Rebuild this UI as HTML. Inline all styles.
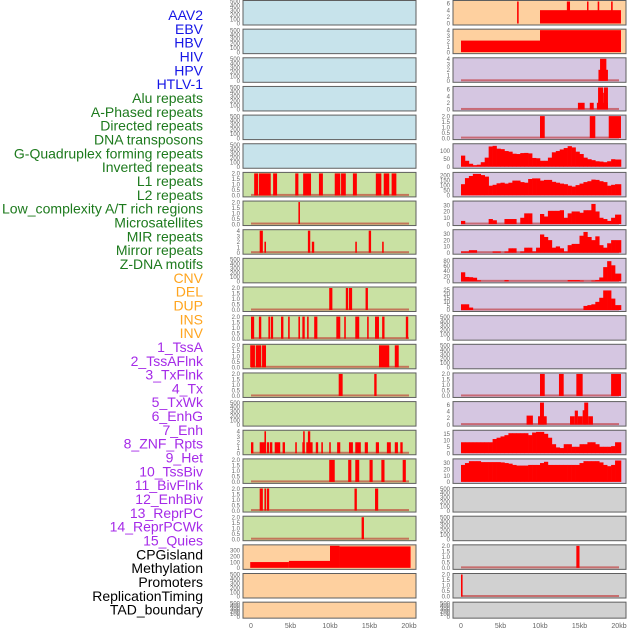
<!DOCTYPE html>
<html><head><meta charset="utf-8"><style>
html,body{margin:0;padding:0;background:#fff;}
svg{display:block;font-family:"Liberation Sans",sans-serif;}
</style></head><body>
<svg id="chart" width="630" height="630" viewBox="0 0 630 630" xmlns="http://www.w3.org/2000/svg"></svg>
<script>
// ---------- data ----------
const trackLabels = ["AAV2","EBV","HBV","HIV","HPV","HTLV-1","Alu repeats","A-Phased repeats","Directed repeats","DNA transposons","G-Quadruplex forming repeats","Inverted repeats","L1 repeats","L2 repeats","Low_complexity A/T rich regions","Microsatellites","MIR repeats","Mirror repeats","Z-DNA motifs","CNV","DEL","DUP","INS","INV","1_TssA","2_TssAFlnk","3_TxFlnk","4_Tx","5_TxWk","6_EnhG","7_Enh","8_ZNF_Rpts","9_Het","10_TssBiv","11_BivFlnk","12_EnhBiv","13_ReprPC","14_ReprPCWk","15_Quies","CPGisland","Methylation","Promoters","ReplicationTiming","TAD_boundary"];
const labelGroups = ["v","v","v","v","v","v","r","r","r","r","r","r","r","r","r","r","r","r","r","s","s","s","s","s","c","c","c","c","c","c","c","c","c","c","c","c","c","c","c","k","k","k","k","k"];
const xTicks = [0,5,10,15,20];
const xTickLabels = ["0","5kb","10kb","15kb","20kb"];
// left column: background kind and y-max per row
const leftBg = ["b","b","b","b","b","b","g","g","g","g","g","g","g","g","g","g","g","g","g","o","o","o"];
const leftMax = [500,500,500,500,500,500,2,2,4,500,2,2,2,2,500,4,2,2,2,380,500,500];
// segments: [startKb, endKb, value]
const leftSegs = [
 [],[],[],[],[],[],
 [[0.4,0.9,2],[1.0,2.5,2],[2.8,3.3,2],[5.6,6.0,2],[6.6,7.6,2],[8.6,9.1,2],[10.6,11.3,2],[11.4,12.0,2],[12.9,13.4,2],[15.8,16.5,2],[16.8,17.5,2],[17.8,18.4,2]],
 [[6.0,6.2,2]],
 [[1.1,1.5,4],[1.7,1.9,2],[7.2,7.5,4],[7.7,8.0,2],[13.2,13.4,2],[14.9,15.2,4],[16.6,16.8,2]],
 [],
 [[9.9,10.3,2],[12.0,12.3,2],[12.4,12.8,2],[14.5,14.8,2]],
 [[0,0.4,2],[1.0,1.3,2],[2.2,2.4,2],[2.5,2.8,2],[3.8,4.1,2],[4.7,4.9,2],[6.0,6.2,2],[6.5,6.8,2],[7.1,7.3,2],[8.0,8.4,2],[10.8,11.3,2],[11.8,12.0,2],[13.2,13.7,2],[14.7,14.9,2],[15.7,16.2,2],[16.6,16.9,2],[19.6,19.9,2]],
 [[-0.1,0.5,2],[0.6,1.3,2],[1.4,1.9,2],[16.2,17.5,2],[18.2,18.7,2]],
 [[11.1,11.6,2],[15.6,15.9,2]],
 [],
 [[0,0.3,2],[1.1,1.8,2],[1.7,1.9,4],[2.0,2.3,2],[2.4,2.7,2],[3.0,3.7,2],[4.0,4.3,2],[5.6,5.8,2],[6.5,6.8,2],[6.6,6.8,4],[7.0,7.8,2],[7.2,7.5,4],[8.2,8.5,2],[8.9,9.1,2],[9.9,10.1,2],[10.9,11.3,2],[12.4,12.9,2],[13.2,13.9,2],[14.4,14.8,2],[15.8,16.2,2],[17.2,17.7,2],[18.2,18.6,2],[18.9,19.2,2]],
 [[9.9,10.6,2],[12.3,12.7,2],[13.2,13.7,2],[15.0,15.4,2],[16.5,16.9,2],[19.2,19.6,2]],
 [[1.1,1.5,2],[1.7,1.9,2],[2.0,2.3,2],[13.1,13.4,2],[15.7,16.1,2]],
 [[14.0,14.3,2]],
 [[-0.1,4.8,100],[4.8,10,120],[10,11.2,395],[11.2,20.2,370]],
 [],[]
];
const leftBase = [0,0,0,0,0,0,1,1,1,0,1,1,1,1,0,1,1,1,1,0,0,0];
// right column
const rightBg = ["o","o","p","p","p","p","p","p","p","p","p","p","p","p","p","p","p","k","k","k","k","k"];
const rightMax = [6.6,4,4,6.6,2,140,220,35,35,85,27,500,500,2,6.6,17,35,500,500,2,2,500];
const rightSegs = [
 [[7.1,7.3,6.6],[10,20.25,4],[13.4,13.8,6.6],[15.95,16.1,6.6],[17.3,17.5,6.6],[19.0,19.2,6.6]],
 [[0,10,2.1],[10,20.25,4]],
 [[17.4,18.6,2],[17.6,18.4,4]],
 [[14.8,15.65,2],[16.3,16.8,2],[17.2,18.6,2],[17.35,18.0,6.6],[18.1,18.6,6.6],[18.0,18.1,5]],
 [[10.0,10.6,2],[16.3,17.0,2],[18.7,20.25,2]],
 [],[],[],[],[],[],[],[],
 [[10.0,10.6,2],[12.4,13.0,2],[14.6,15.4,2],[19.0,20.25,2]],
 [[8.3,9.1,2.7],[9.75,10.85,2.5],[10.0,10.5,6.6],[13.8,14.4,2.5],[14.4,14.8,4.2],[14.8,15.4,2.5],[15.4,15.8,4.3],[15.6,16.1,6.6],[16.1,16.7,2.5]],
 [],[],[],[],
 [[14.6,15.0,2]],
 [[0,0.2,2]],
 []
];
// binned profiles (40 bins of 0.5kb over 0-20kb); keyed by right row index
const aluProfile = [71,38,19,10,13,29,58,129,133,115,112,100,96,83,81,87,88,85,56,54,38,38,58,92,100,110,119,131,123,96,81,58,48,42,35,33,29,35,48,46];
const l1Profile = [112,173,194,215,215,203,188,97,106,121,127,118,127,148,148,133,127,164,170,170,148,155,155,136,127,118,112,97,88,103,118,133,142,158,155,142,133,97,106,112];
const row7Profile = [5,0,0,0,0,0,0,8,6,0,0,8,8,8,0,10,17,17,0,0,16,12,21,21,21,22,10,17,20,20,18,22,22,32,20,10,8,5,10,15];
const row8Profile = [2,2,4,4,0,0,0,0,2,2,0,2,7,7,0,2,8,8,2,8,29,25,20,8,10,7,2,12,14,14,27,33,25,20,26,12,8,15,20,20];
const row9Profile = [35,17,16,14,4,0,0,0,0,0,0,5,0,0,0,0,0,0,0,0,0,0,0,0,0,0,0,5,5,5,3,0,0,3,5,15,55,78,62,30];
const row10Profile = [7,7,3,0,0,0,0,0,0,0,0,0,0,0,0,0,0,0,0,0,0,0,0,0,0,0,0,0,0,0,0,5,6,7,10,15,24,24,14,6];
const row15Profile = [8.5,8.5,8.5,8.5,8.5,8.5,8.5,8.5,11,12,13,14,15.5,15.5,15.5,15.5,15.5,14,16,16.5,16.5,15,12,7,4.5,4,7,7,5,5,7,7,8.5,8.5,7,5,5,5,5.5,8.5];
const row16Profile = [27,30,33,33,33,31.5,31.5,31.5,31.5,31.5,31,30,29,27,26,26,26,27,27,27,30,32,27,27,27,27,27,27,27,27,30,33,33,33,33,31,27,25,27,34];
const rightProfiles = {5:aluProfile,6:l1Profile,7:row7Profile,8:row8Profile,9:row9Profile,10:row10Profile,15:row15Profile,16:row16Profile};
const rightBase = [0,0,1,1,1,0,0,1,1,1,1,0,0,1,1,0,0,0,0,1,1,0];
const tickSets = {
 2:[0,0.5,1,1.5,2], 4:[0,1,2,3,4], 500:[0,100,200,300,400,500], 6.6:[0,2,4,6], 140:[0,50,100],
 220:[0,50,100,150,200], 35:[0,10,20,30], 85:[0,20,40,60,80], 27:[0,5,10,15,20,25], 17:[0,5,10,15], 380:[0,100,200,300]
};

// ---------- drawing ----------
const svg = document.getElementById('chart');
const NS = 'http://www.w3.org/2000/svg';
const bgColors = {b:'#c7e3eb', g:'#c9e1a3', o:'#fed09f', p:'#d5c6e1', k:'#d1d1d1'};
const groupColors = {v:'#1515e6', r:'#1d7a1d', s:'#ffa51f', c:'#a52ae8', k:'#000000'};
const colX = [243, 453];
const panelW = 173;
const kb0 = [251, 461];
const pxPerKb = 7.9;
function xScale(col, kb){ return kb0[col] + kb * pxPerKb; }
function rowTop(i){ return i * 28.65 + 0.5; }
function rowH(i){ return i === 21 ? 16 : 24.5; }
function yScale(i, v, max){ const top = rowTop(i) + 1, bot = rowTop(i) + rowH(i) - 1.5; return bot - (v / max) * (bot - top); }
function mk(tag, attrs){ const e = document.createElementNS(NS, tag); for (const k in attrs) e.setAttribute(k, attrs[k]); return e; }
function fmt(t, max){ return max === 2 ? t.toFixed(1) : String(t); }

// labels
trackLabels.forEach((lab, i) => {
  const t = mk('text', {x:203, y:15 + i * 13.83 + 5, 'text-anchor':'end', 'font-size':14, fill:groupColors[labelGroups[i]]});
  if (lab.length > 28) { t.setAttribute('textLength', 201); t.setAttribute('lengthAdjust', 'spacingAndGlyphs'); }
  t.textContent = lab;
  
  
  svg.appendChild(t);
});

function drawPanel(col, i, bg, max, segs, profile, base){
  const g = mk('g', {});
  
  
  const top = rowTop(i), h = rowH(i);
  g.appendChild(mk('rect', {x:colX[col], y:top, width:panelW, height:h, fill:bgColors[bg]}));
  if (base) {
    const bl = mk('rect', {x:xScale(col, 0), y:yScale(i, 0, max) - 1.5, width:20 * pxPerKb, height:2, fill:'rgba(190,30,30,0.55)'});
    
    
    g.appendChild(bl);
  }
  if (profile) {
    profile.forEach((v, b) => {
      if (v <= 0) return;
      const x1 = xScale(col, b * 0.5), x2 = xScale(col, b === 39 ? 20.25 : (b + 1) * 0.5);
      const y = yScale(i, Math.min(v, max), max), y0 = yScale(i, 0, max);
      const r = mk('rect', {x:x1, y:y, width:x2 - x1 + 0.3, height:y0 - y, fill:'#ff0000'});
      
      
      g.appendChild(r);
    });
  }
  segs.forEach(s => {
    const x1 = xScale(col, s[0]), x2 = xScale(col, s[1]);
    const y = yScale(i, Math.min(s[2], max), max), y0 = yScale(i, 0, max);
    const r = mk('rect', {x:x1, y:Math.max(y, top + 0.5), width:Math.max(x2 - x1, 1.5), height:y0 - Math.max(y, top + 0.5), fill:'#ff0000'});
    
    
    g.appendChild(r);
  });
  g.appendChild(mk('rect', {x:colX[col], y:top, width:panelW, height:h, fill:'none', stroke:'#5f5f5f', 'stroke-width':1}));
  // y ticks
  const ticks = tickSets[max] || [0, max];
  ticks.forEach(t => {
    const tx = mk('text', {x:colX[col] - 3, y:yScale(i, t, max) + 2.2, 'text-anchor':'end', 'font-size':6, fill:'#666'});
    tx.textContent = fmt(t, max);
    
    
    g.appendChild(tx);
  });
  svg.appendChild(g);
}
for (let i = 0; i < 22; i++) {
  drawPanel(0, i, leftBg[i], leftMax[i], leftSegs[i], null, leftBase[i]);
  drawPanel(1, i, rightBg[i], rightMax[i], rightSegs[i], rightProfiles[i] || null, rightBase[i]);
}
// x axes
[0, 1].forEach(col => {
  xTicks.forEach((t, k) => {
    const tx = mk('text', {x:xScale(col, t), y:628, 'text-anchor':'middle', 'font-size':7, fill:'#666'});
    tx.textContent = xTickLabels[k];
    
    
    svg.appendChild(tx);
  });
});
</script>
</body></html>
